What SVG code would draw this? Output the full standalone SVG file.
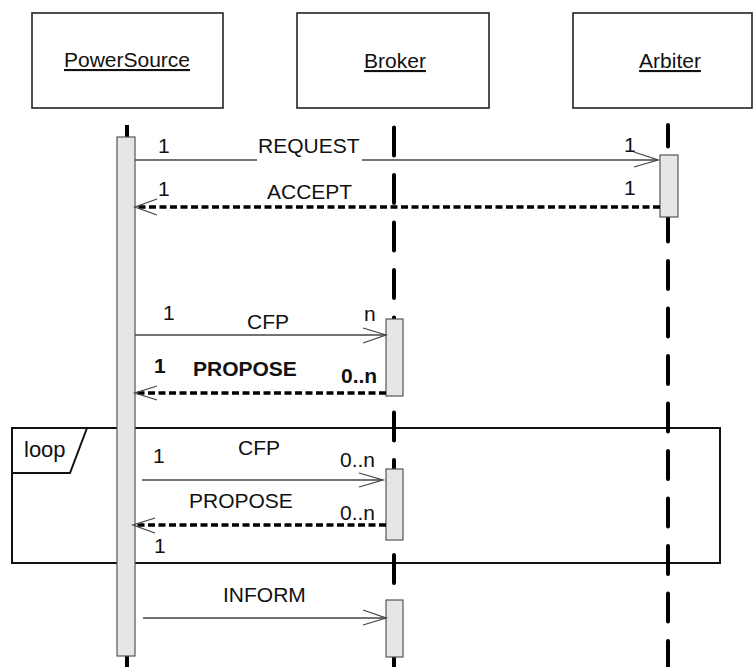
<svg xmlns="http://www.w3.org/2000/svg" width="754" height="667" viewBox="0 0 754 667">
<style>
text{font-family:"Liberation Sans",Arial,sans-serif;font-size:21px;fill:#111}
.b{font-weight:bold}
.name{text-decoration:underline}
.box{fill:#fff;stroke:#222;stroke-width:1.6}
.life{stroke:#000;stroke-width:4;fill:none}
.dl{stroke-dasharray:28 19.5;stroke-linecap:round}
.bar{fill:#e6e6e6;stroke:#555;stroke-width:1.2}
.msg{stroke:#444;stroke-width:1.3;fill:none}
.ret{stroke:#000;stroke-width:3.5;stroke-dasharray:7 3.5;fill:none}
.frame{fill:none;stroke:#111;stroke-width:2}
</style>
<rect width="754" height="667" fill="#fff"/>
<g id="loop-frame">
<rect class="frame" x="12" y="428" width="708" height="135"/>
<path class="frame" d="M12 473 H70 L87 428"/>
<text x="24" y="457" style="font-size:22px">loop</text>
</g>
<g id="PowerSource">
<rect class="box" x="32" y="13" width="191" height="95"/>
<text class="name" x="127" y="67" text-anchor="middle">PowerSource</text>
<line class="life" x1="127" y1="125" x2="127" y2="667"/>
<rect class="bar" x="117" y="137" width="18" height="519"/>
</g>
<g id="Broker">
<rect class="box" x="297" y="13" width="192" height="95"/>
<text class="name" x="395" y="68" text-anchor="middle">Broker</text>
<line class="life dl" x1="394" y1="125" x2="394" y2="667" style="stroke-dashoffset:45"/>
<rect class="bar" x="386" y="319" width="17" height="77"/>
<rect class="bar" x="386" y="469" width="17" height="71"/>
<rect class="bar" x="386" y="600" width="17" height="57"/>
</g>
<g id="Arbiter">
<rect class="box" x="573" y="13" width="179" height="95"/>
<text class="name" x="670" y="68" text-anchor="middle">Arbiter</text>
<line class="life dl" x1="668" y1="125" x2="668" y2="667" style="stroke-dashoffset:6.5"/>
<rect class="bar" x="660" y="155" width="18" height="62"/>
</g>
<g id="connectors">
<line class="msg" x1="135" y1="160" x2="658" y2="160"/>
<path class="msg" d="M634 152 L658 160 L634 167"/>
<rect x="257" y="139" width="105" height="22" fill="#fff"/>
<line class="ret" x1="660" y1="207" x2="136" y2="207"/>
<path class="msg" d="M157 199 L135 207 L157 215"/>
<line class="msg" x1="135" y1="335" x2="386" y2="335"/>
<path class="msg" d="M363 328 L386 335 L363 343"/>
<line class="ret" x1="386" y1="393" x2="136" y2="393"/>
<path class="msg" d="M157 386 L135 393 L157 400"/>
<line class="msg" x1="142" y1="480" x2="383" y2="480"/>
<path class="msg" d="M359 473 L383 480 L359 487"/>
<line class="ret" x1="386" y1="525" x2="134" y2="525"/>
<path class="msg" d="M155 518 L133 525 L155 533"/>
<line class="msg" x1="143" y1="618" x2="386" y2="618"/>
<path class="msg" d="M363 610 L386 618 L363 625"/>
</g>
<g id="labels">
<text x="158" y="153">1</text>
<text x="258" y="153">REQUEST</text>
<text x="624" y="152">1</text>
<text x="158" y="196">1</text>
<text x="267" y="199">ACCEPT</text>
<text x="624" y="195">1</text>
<text x="163" y="320">1</text>
<text x="247" y="329">CFP</text>
<text x="364" y="321">n</text>
<text class="b" x="154" y="373">1</text>
<text class="b" x="193" y="376">PROPOSE</text>
<text class="b" x="341" y="383">0..n</text>
<text x="153" y="463">1</text>
<text x="238" y="455">CFP</text>
<text x="340" y="467">0..n</text>
<text x="189" y="508">PROPOSE</text>
<text x="340" y="520">0..n</text>
<text x="154" y="553">1</text>
<text x="223" y="602">INFORM</text>
</g>
</svg>
